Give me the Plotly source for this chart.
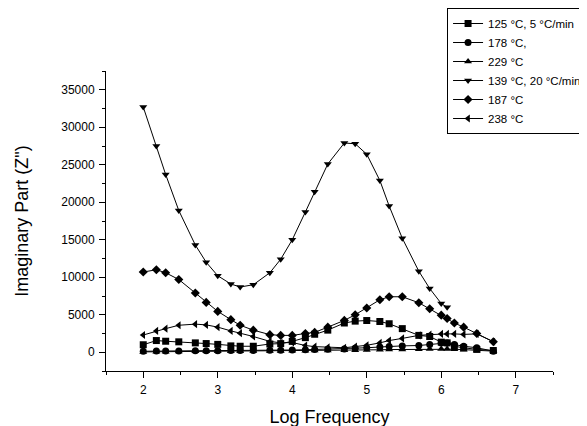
import plotly.graph_objects as go

log_freq = [2, 2.176, 2.301, 2.477, 2.699, 2.845, 3, 3.176, 3.301, 3.477, 3.699, 3.845,
            4, 4.176, 4.301, 4.477, 4.699, 4.845, 5, 5.176, 5.301, 5.477, 5.699, 5.845,
            6, 6.079, 6.176, 6.301, 6.477, 6.699]

z_125 = [1000, 1560, 1470, 1390, 1250, 1160, 1050, 850, 800, 800, 1100, 1150, 1450, 1950, 2400,
         2950, 3900, 4150, 4230, 4100, 3800, 3150, 2250, 2100, 1350, 1250, 800, 600, 380, 230]
z_178 = [130, 180, 170, 180, 200, 200, 210, 220, 230, 240, 260, 280, 300, 330, 360,
         400, 450, 520, 600, 700, 780, 850, 900, 1030, 1250, 1250, 1030, 800, 600, 150]
z_229 = [50, 60, 80, 100, 120, 130, 140, 150, 150, 160, 170, 180, 190, 200, 220,
         240, 260, 280, 300, 330, 360, 380, 400, 420, 430, 420, 400, 350, 250, 150]
z_139 = [32700, 27500, 23700, 18900, 14300, 12000, 10200, 9100, 8700, 9000, 10600, 12400,
         15000, 18700, 21400, 25100, 27900, 27800, 26400, 22900, 19500, 15200, 10800, 8500,
         6500, 6000]
z_187 = [10700, 11000, 10600, 9700, 7900, 6650, 5450, 4350, 3600, 2950, 2350, 2250, 2250,
         2500, 2650, 3350, 4250, 5000, 5900, 7000, 7400, 7400, 6600, 5800, 4950, 4500, 3900,
         3350, 2500, 1400]
z_238 = [2300, 2850, 3150, 3600, 3750, 3650, 3350, 2850, 2550, 2100, 1450, 1250, 1300, 900,
         750, 650, 600, 760, 930, 1250, 1560, 1850, 2250, 2350, 2450, 2450, 2450, 2380, 2450, 1400]

series = [
    ("125 °C, 5 °C/min", z_125, "square"),
    ("178 °C,", z_178, "circle"),
    ("229 °C", z_229, "triangle-up"),
    ("139 °C, 20 °C/min", z_139, "triangle-down"),
    ("187 °C", z_187, "diamond"),
    ("238 °C", z_238, "triangle-left"),
]

fig = go.Figure()
for name, ys, sym in series:
    fig.add_trace(go.Scatter(
        x=log_freq[:len(ys)], y=ys, name=name, mode="lines+markers",
        line=dict(color="black", width=1),
        marker=dict(symbol=sym, size=7, color="black"),
    ))

font_family = "Arial, Liberation Sans, sans-serif"
fig.update_layout(
    width=587, height=426,
    margin=dict(l=98, r=42, t=63, b=63, autoexpand=False),
    paper_bgcolor="white", plot_bgcolor="white",
    font=dict(family=font_family, color="black", size=12),
    showlegend=True,
    legend=dict(
        x=0.763, y=1.21, xanchor="left", yanchor="top",
        bordercolor="black", borderwidth=1, bgcolor="white",
        font=dict(size=11.5, family=font_family), itemwidth=30,
        tracegroupgap=0,
    ),
    xaxis=dict(
        range=[1.5, 7.5], tickvals=[2, 3, 4, 5, 6, 7], showgrid=False, zeroline=False,
        showline=True, linecolor="black", linewidth=1,
        ticks="outside", ticklen=6, tickcolor="black", ticklabelstandoff=2,
        minor=dict(tickvals=[1.5, 2.5, 3.5, 4.5, 5.5, 6.5, 7.5], ticks="outside", ticklen=3, tickcolor="black"),
        title=dict(text="Log Frequency", font=dict(size=18), standoff=13),
        tickfont=dict(size=12),
    ),
    yaxis=dict(
        range=[-2500, 37500], tickvals=[0, 5000, 10000, 15000, 20000, 25000, 30000, 35000],
        ticktext=["0", "5000", "10000", "15000", "20000", "25000", "30000", "35000"],
        showgrid=False, zeroline=False,
        showline=True, linecolor="black", linewidth=1,
        ticks="outside", ticklen=6, tickcolor="black", ticklabelstandoff=2,
        minor=dict(tickvals=[-2500, 2500, 7500, 12500, 17500, 22500, 27500, 32500, 37500],
                   ticks="outside", ticklen=3, tickcolor="black"),
        title=dict(text="Imaginary Part (Z\")", font=dict(size=18), standoff=27),
        tickfont=dict(size=12),
    ),
)

fig.write_html("out.html")
